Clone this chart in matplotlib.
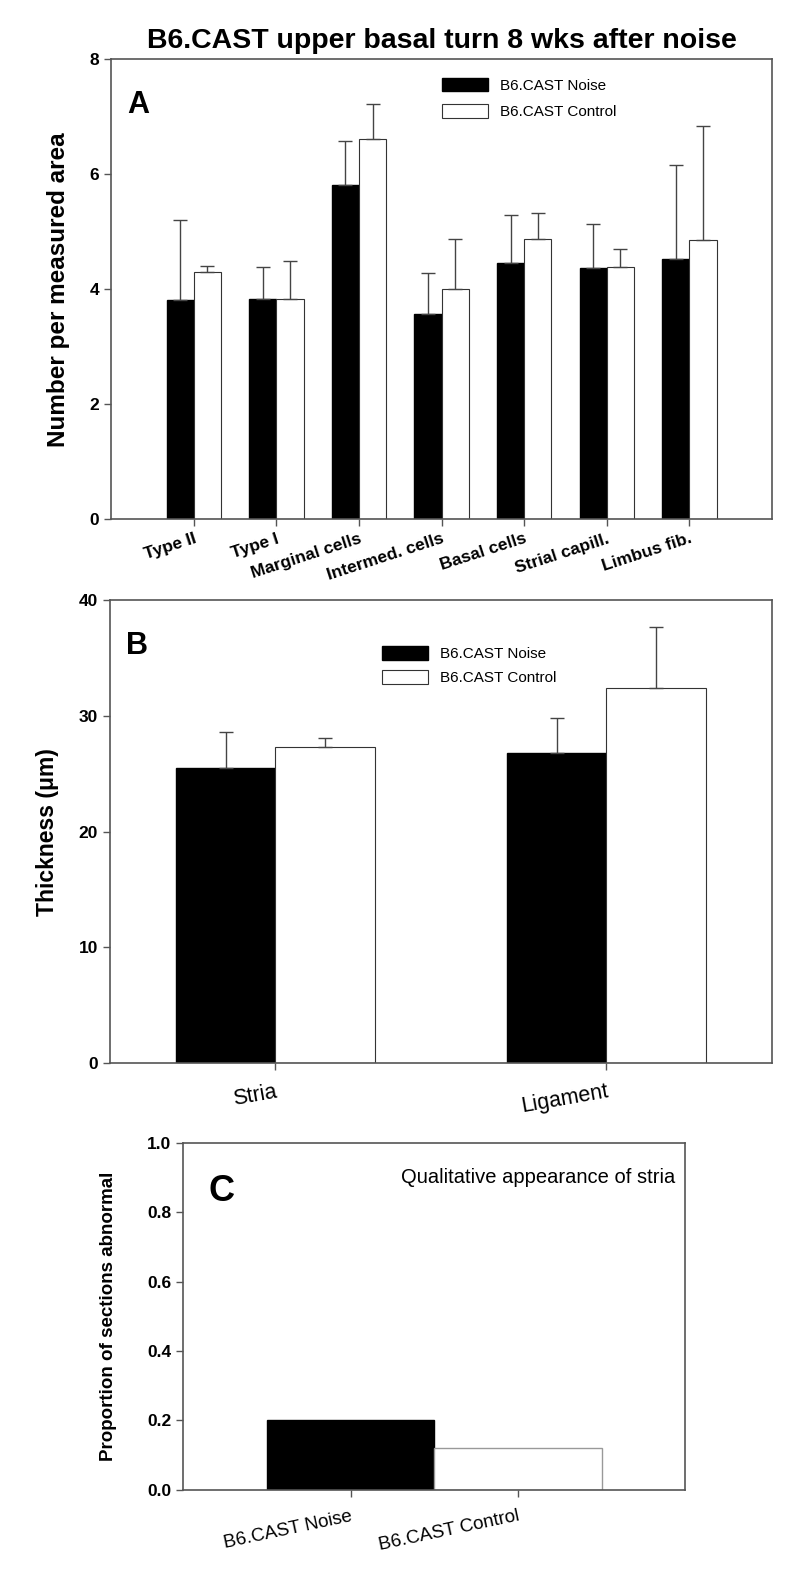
import numpy as np
import matplotlib.pyplot as plt

plt.rcParams['font.family'] = ['Liberation Sans', 'DejaVu Sans']

# Panel A: cell counts
cats_a = ['Type II', 'Type I', 'Marginal cells', 'Intermed. cells',
          'Basal cells', 'Strial capill.', 'Limbus fib.']
noise_a = [3.82, 3.84, 5.82, 3.57, 4.46, 4.37, 4.53]
noise_a_err = [1.38, 0.54, 0.75, 0.72, 0.84, 0.76, 1.63]
ctrl_a = [4.30, 3.84, 6.62, 4.00, 4.87, 4.38, 4.86]
ctrl_a_err = [0.10, 0.66, 0.60, 0.88, 0.46, 0.32, 1.98]

# Panel B: thickness
cats_b = ['Stria', 'Ligament']
noise_b = [25.5, 26.8]
noise_b_err = [3.1, 3.0]
ctrl_b = [27.3, 32.4]
ctrl_b_err = [0.8, 5.3]

# Panel C: proportion abnormal
cats_c = ['B6.CAST Noise', 'B6.CAST Control']
vals_c = [0.20, 0.12]

spine_col = '#555555'

def style(ax):
    for s in ax.spines.values():
        s.set_color(spine_col)
        s.set_linewidth(1.2)
    ax.tick_params(direction='out', length=5, width=1, color=spine_col)
    for t in ax.get_yticklabels():
        t.set_fontweight('bold')
        t.set_fontsize(12.5)

fig = plt.figure(figsize=(8, 15.87), dpi=100)

# A
ax1 = fig.add_axes([0.139, 0.6727, 0.826, 0.290])
x = np.arange(len(cats_a))
w = 0.33
ax1.bar(x - w, noise_a, w, align='edge', color='black', edgecolor='black',
        label='B6.CAST Noise')
ax1.bar(x, ctrl_a, w, align='edge', color='white', edgecolor='#333333',
        linewidth=0.8, label='B6.CAST Control')
ax1.errorbar(x - w/2, noise_a, yerr=[np.zeros(7), noise_a_err], fmt='none',
             ecolor='#444444', elinewidth=1, capsize=5)
ax1.errorbar(x + w/2, ctrl_a, yerr=[np.zeros(7), ctrl_a_err], fmt='none',
             ecolor='#444444', elinewidth=1, capsize=5)
ax1.set_xlim(-1, 7)
ax1.set_ylim(0, 8)
ax1.set_yticks([0, 2, 4, 6, 8])
ax1.set_xticks(x)
ax1.set_xticklabels(cats_a, rotation=18, ha='right', rotation_mode='anchor',
                    fontweight='bold', fontsize=12.5)
for t in ax1.get_xticklabels():
    t.set_x(0)
ax1.set_ylabel('Number per measured area', fontsize=17.5, fontweight='bold',
               labelpad=14)
ax1.set_title('B6.CAST upper basal turn 8 wks after noise', fontsize=20.5,
              fontweight='bold', pad=8)
ax1.text(0.025, 0.9, 'A', transform=ax1.transAxes, fontsize=22,
         fontweight='bold', va='center')
ax1.legend(loc='upper left', bbox_to_anchor=(0.48, 0.99), frameon=False,
           fontsize=11, handlelength=3.0, handleheight=1.0, labelspacing=0.75)
style(ax1)

# B
ax2 = fig.add_axes([0.137, 0.330, 0.828, 0.292])
xb = np.arange(len(cats_b))
wb = 0.3
ax2.bar(xb - wb, noise_b, wb, align='edge', color='black', edgecolor='black',
        label='B6.CAST Noise')
ax2.bar(xb, ctrl_b, wb, align='edge', color='white', edgecolor='#333333',
        linewidth=0.8, label='B6.CAST Control')
ax2.errorbar(xb - wb/2, noise_b, yerr=[np.zeros(2), noise_b_err], fmt='none',
             ecolor='#444444', elinewidth=1, capsize=5)
ax2.errorbar(xb + wb/2, ctrl_b, yerr=[np.zeros(2), ctrl_b_err], fmt='none',
             ecolor='#444444', elinewidth=1, capsize=5)
ax2.set_xlim(-0.5, 1.5)
ax2.set_ylim(0, 40)
ax2.set_yticks([0, 10, 20, 30, 40])
ax2.set_xticks(xb)
ax2.set_xticklabels(cats_b, rotation=10, ha='right', rotation_mode='anchor',
                    fontsize=15.5)
ax2.tick_params(axis='x', pad=8)
ax2.set_ylabel('Thickness (\u03bcm)', fontsize=16.5, fontweight='bold',
               labelpad=14)
ax2.text(0.025, 0.9, 'B', transform=ax2.transAxes, fontsize=22,
         fontweight='bold', va='center')
ax2.legend(loc='upper left', bbox_to_anchor=(0.39, 0.93), frameon=False,
           fontsize=11, handlelength=3.0, handleheight=1.0, labelspacing=0.6)
style(ax2)

# C
ax3 = fig.add_axes([0.229, 0.0613, 0.6275, 0.2185])
xc = np.arange(len(cats_c))
ax3.bar(xc[0], vals_c[0], 1.0, color='black', edgecolor='black')
ax3.bar(xc[1], vals_c[1], 1.0, color='white', edgecolor='#999999',
        linewidth=1)
ax3.set_xlim(-1, 2)
ax3.set_ylim(0, 1.0)
ax3.set_yticks([0.0, 0.2, 0.4, 0.6, 0.8, 1.0])
ax3.set_yticklabels(['0.0', '0.2', '0.4', '0.6', '0.8', '1.0'])
ax3.set_xticks(xc)
ax3.set_xticklabels(cats_c, rotation=12, ha='right', rotation_mode='anchor',
                    fontsize=13.5)
ax3.tick_params(axis='x', pad=8)
ax3.set_ylabel('Proportion of sections abnormal', fontsize=13.5,
               fontweight='bold', labelpad=22)
ax3.text(0.05, 0.86, 'C', transform=ax3.transAxes, fontsize=26,
         fontweight='bold', va='center')
ax3.text(0.98, 0.9, 'Qualitative appearance of stria', transform=ax3.transAxes,
         fontsize=14.5, ha='right', va='center')
style(ax3)

fig.savefig('out.png', dpi=100)
